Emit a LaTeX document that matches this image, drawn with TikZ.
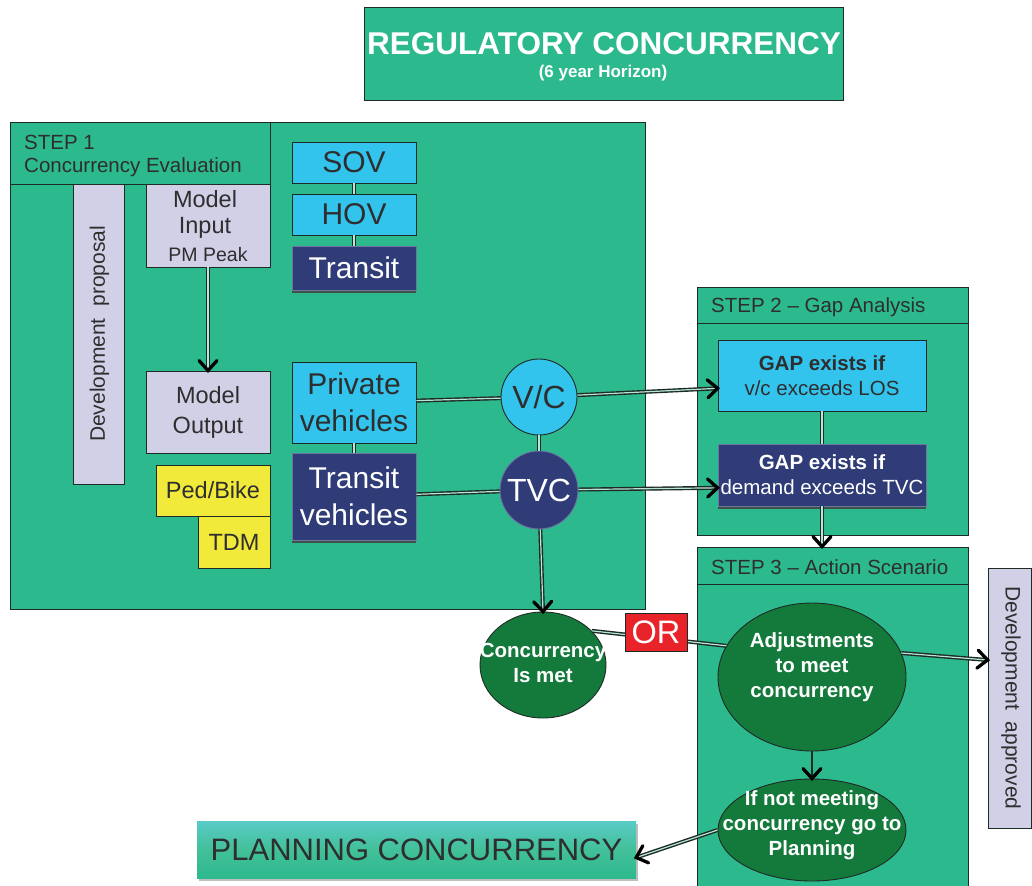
\documentclass[tikz,border=0pt]{standalone}
\usepackage{fontspec}
\setmainfont{Liberation Sans}
\usetikzlibrary{shapes.geometric,shadows,calc}

\definecolor{stepgreen}{HTML}{2DB98E}
\definecolor{skyblue}{HTML}{33C4EE}
\definecolor{navy}{HTML}{2F3C78}
\definecolor{lavender}{HTML}{D2D0E7}
\definecolor{pedyellow}{HTML}{F2EA3A}
\definecolor{leafgreen}{HTML}{147A3C}
\definecolor{orred}{HTML}{E8232A}
\definecolor{inkgray}{HTML}{2E2E2E}
\definecolor{edge}{HTML}{1E2A24}

\newcommand{\fs}[2]{\fontsize{#1}{#2}\selectfont}

\tikzset{
  rect/.style={draw=edge, line width=0.9pt, rectangle, inner sep=0pt, align=center, text=inkgray},
  panel/.style={rect, fill=stepgreen},
  lav/.style={rect, fill=lavender},
  sky/.style={rect, fill=skyblue},
  navybox/.style={rect, fill=navy, draw=navy!70!white, text=white,
    drop shadow={shadow xshift=0pt, shadow yshift=-3pt, opacity=0.85, fill=black!75}},
  ylw/.style={rect, fill=pedyellow},
  oval/.style={ellipse, draw=edge, line width=0.9pt, fill=leafgreen, inner sep=0pt},
  ovaltxt/.style={inner sep=0pt, align=center, text=white, font=\fs{20.5}{25}\bfseries},
  wire/.style={draw=edge, line width=1.4pt, double=stepgreen!35!white, double distance=1.2pt},
  chev/.style={draw=black, line width=3.3pt, line cap=round, line join=miter},
  lbl/.style={anchor=west, inner sep=0pt, text=inkgray, font=\fs{20.5}{24}}
}

% open chevron whose apex sits on #2, pointing away from #1
\newcommand{\chevron}[2]{%
  \coordinate (chevbase) at ($(#2)!10pt!(#1)$);
  \draw[chev] ($(chevbase)!9pt!90:(#2)$) -- (#2) -- ($(chevbase)!9pt!-90:(#2)$);}
% double shaft ending in a chevron
\newcommand{\arrowlink}[2]{%
  \draw[wire] (#1) -- (#2);
  \chevron{#1}{#2}}

\begin{document}
\begin{tikzpicture}[x=1pt,y=-1pt]
  \useasboundingbox (0,0) rectangle (1032,885);
  \fill[white] (0,0) rectangle (1032,885);
  \clip (0,0) rectangle (1032,885);

  % title
  \node[panel, minimum width=479pt, minimum height=93pt] (title) at (603.5,53.5) {};
  \node[inner sep=0pt, text=white, font=\fs{31.5}{34}\bfseries] (titletxt) at (604,44) {REGULATORY CONCURRENCY};
  \node[inner sep=0pt, text=white, font=\fs{17}{20}\bfseries] (horizon) at (603,73) {(6 year Horizon)};

  % step 1 panel
  \node[panel, minimum width=635pt, minimum height=487pt] (step1) at (327.5,365.5) {};
  \node[panel, minimum width=260pt, minimum height=62pt] (s1head) at (140,153) {};
  \node[lbl] (s1a) at (24,142) {STEP 1};
  \node[lbl] (s1b) at (24,167) {Concurrency Evaluation};

  \node[lav, minimum width=51pt, minimum height=300pt] (devprop) at (98.5,334) {};
  \node[rotate=90, inner sep=0pt, text=inkgray, font=\fs{21}{24}] (devproptxt) at (99.5,334) {Development\ \ proposal};

  \node[lav, minimum width=124pt, minimum height=83pt] (modin) at (208,225.5) {};
  \node[inner sep=0pt, text=inkgray, font=\fs{23.5}{26}] (modinA) at (205,199) {Model};
  \node[inner sep=0pt, text=inkgray, font=\fs{23.5}{26}] (modinB) at (205,228) {Input};
  \node[inner sep=0pt, text=inkgray, font=\fs{19.5}{22}] (modinC) at (208,255) {PM Peak};

  \node[lav, minimum width=124pt, minimum height=82pt, font=\fs{23.5}{30}] (modout) at (208,412) {Model\\Output};

  \node[ylw, minimum width=114pt, minimum height=51pt, font=\fs{23.5}{26}] (ped) at (213,490.5) {Ped/Bike};
  \node[ylw, minimum width=72pt, minimum height=52pt, font=\fs{23.5}{26}] (tdm) at (234,542) {TDM};

  \node[sky, minimum width=124pt, minimum height=41pt, font=\fs{30}{34}] (sov) at (354,162.5) {SOV};
  \node[sky, minimum width=124pt, minimum height=41pt, font=\fs{30}{34}] (hov) at (354,214.5) {HOV};
  \node[navybox, minimum width=124pt, minimum height=44pt, font=\fs{30}{34}] (trans) at (354,268) {Transit};

  \node[sky, minimum width=124pt, minimum height=81pt, font=\fs{30}{37}] (pv) at (354,402.5) {Private\\vehicles};
  \node[navybox, minimum width=124pt, minimum height=87pt, font=\fs{30}{37}] (tv) at (354,496.5) {Transit\\vehicles};

  \node[circle, draw=edge, line width=0.9pt, fill=skyblue, minimum size=76pt, inner sep=0pt,
        text=inkgray, font=\fs{32}{34}] (vc) at (539,397) {V/C};
  \node[circle, draw=navy!70!white, line width=0.9pt, fill=navy, minimum size=78pt, inner sep=0pt,
        text=white, font=\fs{32}{34}] (tvc) at (539,490) {TVC};

  % step 2 panel
  \node[panel, minimum width=271pt, minimum height=248pt] (step2) at (832.5,411) {};
  \node[panel, minimum width=271pt, minimum height=36pt] (s2head) at (832.5,305) {};
  \node[lbl] (s2a) at (711,307) {STEP 2 -- Gap Analysis};
  \node[sky, minimum width=208pt, minimum height=71pt, font=\fs{20.5}{25}] (gap1) at (822,375.5)
    {\textbf{GAP exists if}\\v/c exceeds LOS};
  \node[navybox, minimum width=208pt, minimum height=62pt, font=\fs{20.5}{25}] (gap2) at (822,475)
    {\textbf{GAP exists if}\\demand exceeds TVC};

  % step 3 panel
  \node[panel, minimum width=271pt, minimum height=343pt] (step3) at (832.5,718.5) {};
  \node[panel, minimum width=271pt, minimum height=37pt] (s3head) at (832.5,565.5) {};
  \node[lbl] (s3a) at (711,567) {STEP 3 -- Action Scenario};

  \node[oval, minimum width=126pt, minimum height=106pt] (conc) at (543,665) {};
  \node[ovaltxt] (conctxt) at (543,663) {Concurrency\\Is met};
  \node[oval, minimum width=188pt, minimum height=148pt] (adj) at (812,677) {};
  \node[ovaltxt] (adjtxt) at (812,667) {Adjustments\\to meet\\concurrency};
  \node[oval, minimum width=188pt, minimum height=102pt] (ifnot) at (812,830) {};
  \node[ovaltxt] (ifnottxt) at (812,825) {If not meeting\\concurrency go to\\Planning};

  \node[lav, minimum width=43pt, minimum height=260pt] (devapp) at (1009.5,698) {};
  \node[rotate=-90, inner sep=0pt, text=inkgray, font=\fs{21}{24}] (devapptxt) at (1011,698) {Development\ \ approved};

  \node[rectangle, inner sep=0pt, minimum width=439pt, minimum height=57pt,
        top color=stepgreen!55!skyblue!80!white, bottom color=stepgreen, middle color=stepgreen!90!white,
        drop shadow={shadow xshift=2pt, shadow yshift=-3pt, opacity=0.5},
        text=inkgray, font=\fs{31}{34}] (plan) at (416.5,849.5) {PLANNING CONCURRENCY};

  % arrow landing points
  \coordinate (modoutin) at (modout.north);
  \coordinate (gap1in) at (gap1.187);
  \coordinate (gap2in) at (gap2.187);
  \coordinate (concin) at (conc.north);
  \coordinate (s3in) at (gap2.south |- s3head.north);
  \coordinate (devin) at ($(devapp.west)+(0,-38)$);
  \coordinate (planin) at ($(plan.east)+(0,8)$);
  \coordinate (ifnotin) at (ifnot.north);

  % connectors
  \arrowlink{modin}{modoutin}
  \draw[wire] (sov) -- (hov);
  \draw[wire] (hov) -- (trans);
  \draw[wire] (pv) -- (tv);
  \draw[wire] (pv) -- (vc);
  \draw[wire] (tv) -- (tvc);
  \draw[wire] (vc) -- (tvc);
  \arrowlink{vc}{gap1in}
  \arrowlink{tvc}{gap2in}
  \arrowlink{tvc}{concin}
  \draw[wire] (gap1) -- (gap2);
  \arrowlink{gap2.south}{s3in}
  \draw[wire] (conc.35) -- (adj.160);
  \arrowlink{adj.15}{devin}
  \draw[draw=edge, line width=2pt] (adj) -- (ifnotin);
  \chevron{adj}{ifnotin}
  \arrowlink{ifnot.west}{planin}

  \node[rect, fill=orred, minimum width=62pt, minimum height=38pt, text=white, font=\fs{32.5}{34}] (orbox) at (656,632) {OR};
\end{tikzpicture}
\end{document}
